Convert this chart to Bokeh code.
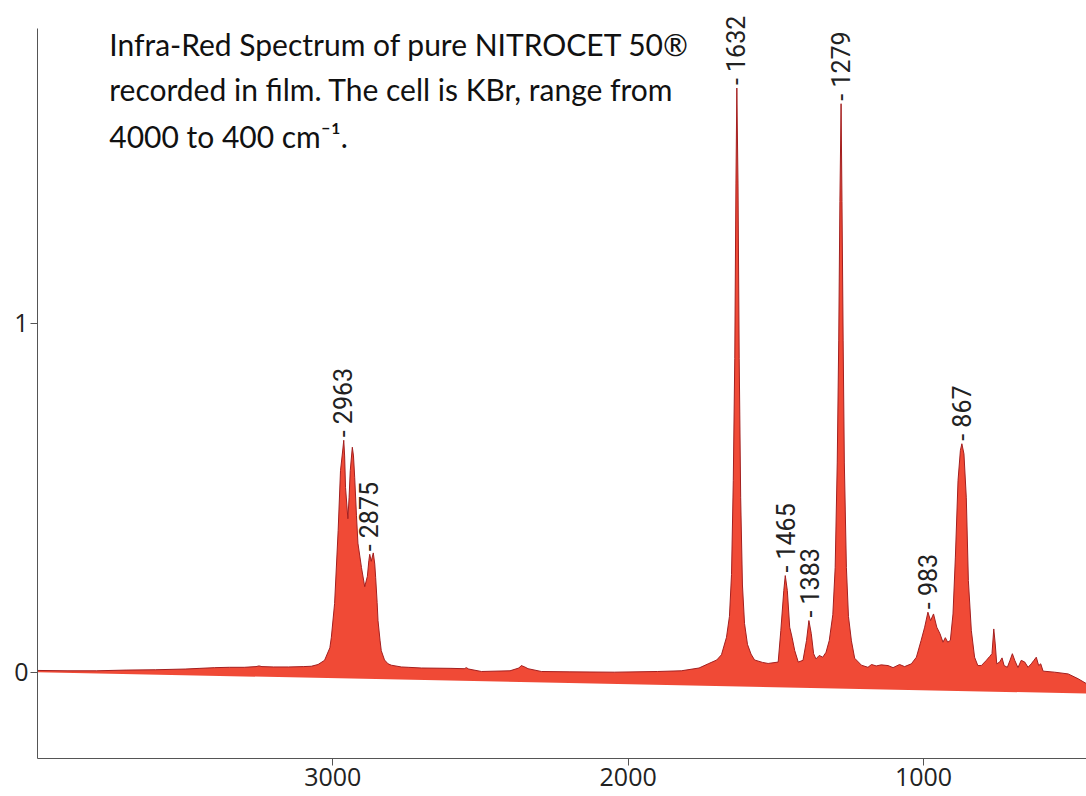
from bokeh.plotting import figure
from bokeh.models import Range1d, FixedTicker, Label, LabelSet, ColumnDataSource
from bokeh.embed import file_html
from bokeh.resources import INLINE
from bokeh.core.properties import value
import numpy as np

# ---- data ----
wavenumber = [4000, 3900, 3800, 3700, 3600, 3500, 3450, 3400, 3350, 3300, 3260, 3250, 3240,
              3200, 3150, 3100, 3073, 3050, 3028, 3010, 3005, 2994, 2982, 2974, 2966, 2963,
              2960, 2957, 2949, 2945, 2941, 2934, 2930, 2926, 2920, 2915, 2903, 2892, 2883,
              2878, 2875, 2870, 2863, 2858, 2855, 2850, 2847, 2840, 2836, 2825, 2813, 2802,
              2768, 2745, 2700, 2600, 2555, 2548, 2540, 2497, 2400, 2370, 2362, 2350, 2339,
              2294, 2200, 2047, 1900, 1820, 1760, 1729, 1700, 1684, 1667, 1657, 1650, 1644,
              1639, 1635, 1632, 1628, 1624, 1619, 1613, 1606, 1596, 1584, 1572, 1545, 1526,
              1492, 1483, 1473, 1468, 1461, 1453, 1445, 1436, 1424, 1408, 1396, 1388, 1380,
              1372, 1364, 1353, 1341, 1330, 1319, 1307, 1299, 1292, 1287, 1283, 1279, 1276,
              1272, 1268, 1261, 1254, 1244, 1233, 1210, 1188, 1176, 1160, 1143, 1120, 1103,
              1081, 1064, 1041, 1024, 1008, 996, 985, 976, 966, 955, 944, 934, 926, 918, 909,
              900, 892, 883, 875, 870, 863, 855, 848, 838, 827, 816, 804, 787, 776, 768, 762,
              757, 752, 742, 734, 727, 716, 707, 699, 691, 680, 669, 657, 646, 635, 626, 618,
              610, 603, 595, 556, 510, 476, 444, 400]
absorbance = [0.005, 0.004, 0.004, 0.006, 0.007, 0.009, 0.011, 0.013, 0.014, 0.014, 0.016, 0.018, 0.016,
              0.015, 0.015, 0.016, 0.017, 0.022, 0.034, 0.07, 0.10, 0.197, 0.406, 0.578, 0.64, 0.665,
              0.62, 0.53, 0.44, 0.50, 0.578, 0.645, 0.62, 0.559, 0.45, 0.37, 0.30, 0.245, 0.275,
              0.32, 0.338, 0.318, 0.342, 0.31, 0.272, 0.2, 0.148, 0.09, 0.062, 0.035, 0.024, 0.02,
              0.015, 0.014, 0.012, 0.011, 0.010, 0.013, 0.009, 0.002, 0.004, 0.012, 0.019, 0.015, 0.010,
              0.002, 0.001, 0.0, 0.002, 0.004, 0.012, 0.024, 0.035, 0.05, 0.10, 0.16, 0.28, 0.55,
              0.9, 1.4, 1.675, 1.4, 0.9, 0.5, 0.25, 0.14, 0.08, 0.052, 0.035, 0.028, 0.025,
              0.029, 0.12, 0.234, 0.277, 0.234, 0.129, 0.10, 0.062, 0.029, 0.034, 0.091, 0.148, 0.111,
              0.053, 0.038, 0.048, 0.043, 0.057, 0.091, 0.165, 0.3, 0.6, 0.95, 1.35, 1.63, 1.35,
              0.95, 0.6, 0.3, 0.16, 0.09, 0.04, 0.02, 0.014, 0.022, 0.018, 0.021, 0.019, 0.013,
              0.022, 0.016, 0.024, 0.043, 0.091, 0.129, 0.172, 0.148, 0.167, 0.129, 0.11, 0.086, 0.099, 0.086, 0.091,
              0.167, 0.33, 0.55, 0.636, 0.655, 0.626, 0.50, 0.263, 0.12, 0.043, 0.019, 0.019, 0.034, 0.045, 0.053, 0.124,
              0.081, 0.024, 0.029, 0.041, 0.019, 0.014, 0.034, 0.053, 0.034, 0.013, 0.034, 0.029, 0.014, 0.024, 0.034, 0.043,
              0.019, 0.024, 0.003, 0.0, -0.005, -0.019, -0.035, -0.055]

baseline_wn = [4000, 400]
baseline_abs = [0.0, -0.062]

peak_wn = [2963, 2875, 1632, 1465, 1383, 1279, 983, 867]
peak_abs = [0.665, 0.338, 1.675, 0.277, 0.148, 1.63, 0.172, 0.655]
peak_labels = ["- " + str(w) for w in peak_wn]

x_ticks = [3000, 2000, 1000]
y_ticks = [0, 1]

title_lines = ["Infra-Red Spectrum of pure NITROCET 50®",
               "recorded in film. The cell is KBr, range from",
               "4000 to 400 cm\u207b\u00b9."]

# ---- figure ----
Y_MIN, Y_AXIS_TOP, Y_MAX = -0.2475, 1.846, 1.926
p = figure(width=1086, height=796, x_range=Range1d(4000, 448), y_range=Range1d(Y_MIN, Y_MAX),
           output_backend="svg", toolbar_location=None,
           min_border_left=37, min_border_top=0, min_border_right=0, min_border_bottom=38)
p.grid.visible = False
p.outline_line_color = None
p.background_fill_color = "white"

FILL = "#f04a36"
p.patch(wavenumber + baseline_wn[::-1], absorbance + baseline_abs[::-1],
        fill_color=FILL, line_color=None)
p.line(wavenumber, absorbance, line_color="#a31f1f", line_width=1)

peak_src = ColumnDataSource(dict(x=peak_wn, y=peak_abs, text=peak_labels))
p.add_layout(LabelSet(x="x", y="y", text="text", source=peak_src, angle=np.pi / 2,
                      text_align="left", text_baseline="middle", y_offset=3,
                      text_font=value("Roboto"), text_font_size=value("25px"),
                      text_color="#222222"))

title_y = [1.800, 1.671, 1.537]
for line, ty in zip(title_lines, title_y):
    p.add_layout(Label(x=3757, y=ty, text=line, text_font="Lato", text_font_size="30px",
                       text_color="#111111", text_baseline="alphabetic"))

for ax in (p.xaxis[0], p.yaxis[0]):
    ax.axis_line_color = "#555555"
    ax.major_tick_line_color = "#555555"
    ax.major_tick_out = 7
    ax.major_tick_in = 0
    ax.minor_tick_line_color = None
    ax.major_label_text_font = "Open Sans"
    ax.major_label_text_font_size = "25px"
    ax.major_label_text_color = "#222222"
    ax.major_label_standoff = 2

p.yaxis.bounds = (Y_MIN, Y_AXIS_TOP)
p.xaxis.ticker = FixedTicker(ticks=x_ticks)
p.yaxis.ticker = FixedTicker(ticks=y_ticks)

open("out.html", "w").write(file_html(p, INLINE))
